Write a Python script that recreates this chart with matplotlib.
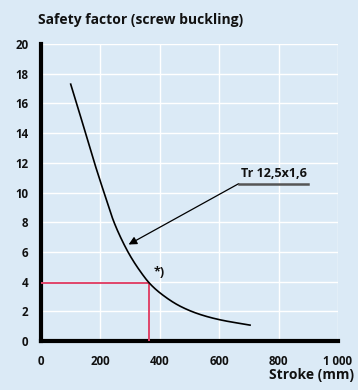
import matplotlib
matplotlib.use("Agg")
import matplotlib.pyplot as plt
import numpy as np

stroke = [100, 120, 150, 180, 213, 244, 270, 300, 334, 365, 402, 470, 537, 605, 704]
safety = [17.3, 16.0, 14.0, 12.0, 9.95, 8.1, 6.9, 5.75, 4.7, 3.9, 3.22, 2.33, 1.78, 1.42, 1.07]
ref_x = 365
ref_y = 3.9
xticks = [0, 200, 400, 600, 800, 1000]
xtick_labels = ["0", "200", "400", "600", "800", "1 000"]
yticks = list(range(0, 21, 2))
label_curve = "Tr 12,5x1,6"

bg = "#dbeaf6"
plt.rcParams['font.family'] = ['Open Sans', 'DejaVu Sans']

fig = plt.figure(figsize=(3.58, 3.90), dpi=100, facecolor=bg)
ax = fig.add_axes([0.1145, 0.1256, 0.8295, 0.7614])
ax.set_facecolor(bg)

xs = np.array(stroke, float)
ys = np.array(safety, float)
xx = np.linspace(xs[0], xs[-1], 400)
def pchip(x, y, xn):
    h = np.diff(x); d = np.diff(y) / h
    m = np.zeros_like(y)
    for k in range(1, len(x) - 1):
        if d[k-1] * d[k] > 0:
            w1 = 2*h[k] + h[k-1]; w2 = h[k] + 2*h[k-1]
            m[k] = (w1 + w2) / (w1/d[k-1] + w2/d[k])
    m[0] = d[0]; m[-1] = d[-1]
    out = np.empty_like(xn)
    for i, v in enumerate(xn):
        k = min(np.searchsorted(x, v) - 1, len(x) - 2); k = max(k, 0)
        t = (v - x[k]) / h[k]
        h00 = 2*t**3 - 3*t**2 + 1; h10 = t**3 - 2*t**2 + t
        h01 = -2*t**3 + 3*t**2; h11 = t**3 - t**2
        out[i] = h00*y[k] + h10*h[k]*m[k] + h01*y[k+1] + h11*h[k]*m[k+1]
    return out
yy = pchip(xs, ys, xx)
ax.plot(xx, yy, color="black", lw=1.2, zorder=4)

red = "#e0456a"
ax.plot([0, ref_x, ref_x], [ref_y, ref_y, 0], color=red, lw=1.4, zorder=3)

ax.set_xlim(0, 1000)
ax.set_ylim(0, 20)
ax.set_xticks(xticks)
ax.set_xticklabels(xtick_labels)
ax.set_yticks(yticks)
ax.grid(True, color="white", lw=1.0, zorder=0)
ax.set_axisbelow(True)
for s in ["top", "right"]:
    ax.spines[s].set_visible(False)
for s in ["left", "bottom"]:
    ax.spines[s].set_linewidth(3)
    ax.spines[s].set_color("black")
ax.tick_params(length=0, labelsize=8.3, colors="#111111")
for t in ax.get_xticklabels() + ax.get_yticklabels():
    t.set_fontweight("bold")
ax.tick_params(axis="y", pad=9)
ax.tick_params(axis="x", pad=10)

ax.annotate("", xy=(295, 6.5), xytext=(666, 10.6),
            arrowprops=dict(arrowstyle="-|>", color="black", lw=0.9,
                            mutation_scale=12, shrinkA=0, shrinkB=0), zorder=5)
ax.plot([666, 900], [10.6, 10.6], color="#555555", lw=1.8, clip_on=False, zorder=5)
ax.text(783, 10.85, label_curve, ha="center", va="bottom", fontsize=9,
        fontweight="bold", color="#111111")
ax.text(380, 4.2, "*)", ha="left", va="bottom", fontsize=9, fontweight="bold",
        color="#111111")

fig.text(0.106, 0.948, "Safety factor (screw buckling)", ha="left", va="center",
         fontsize=10, fontweight="bold", color="#111111")
fig.text(0.99, 0.021, "Stroke (mm)", ha="right", va="bottom",
         fontsize=10, fontweight="bold", color="#111111")

fig.savefig("out.png", dpi=100, facecolor=bg)
